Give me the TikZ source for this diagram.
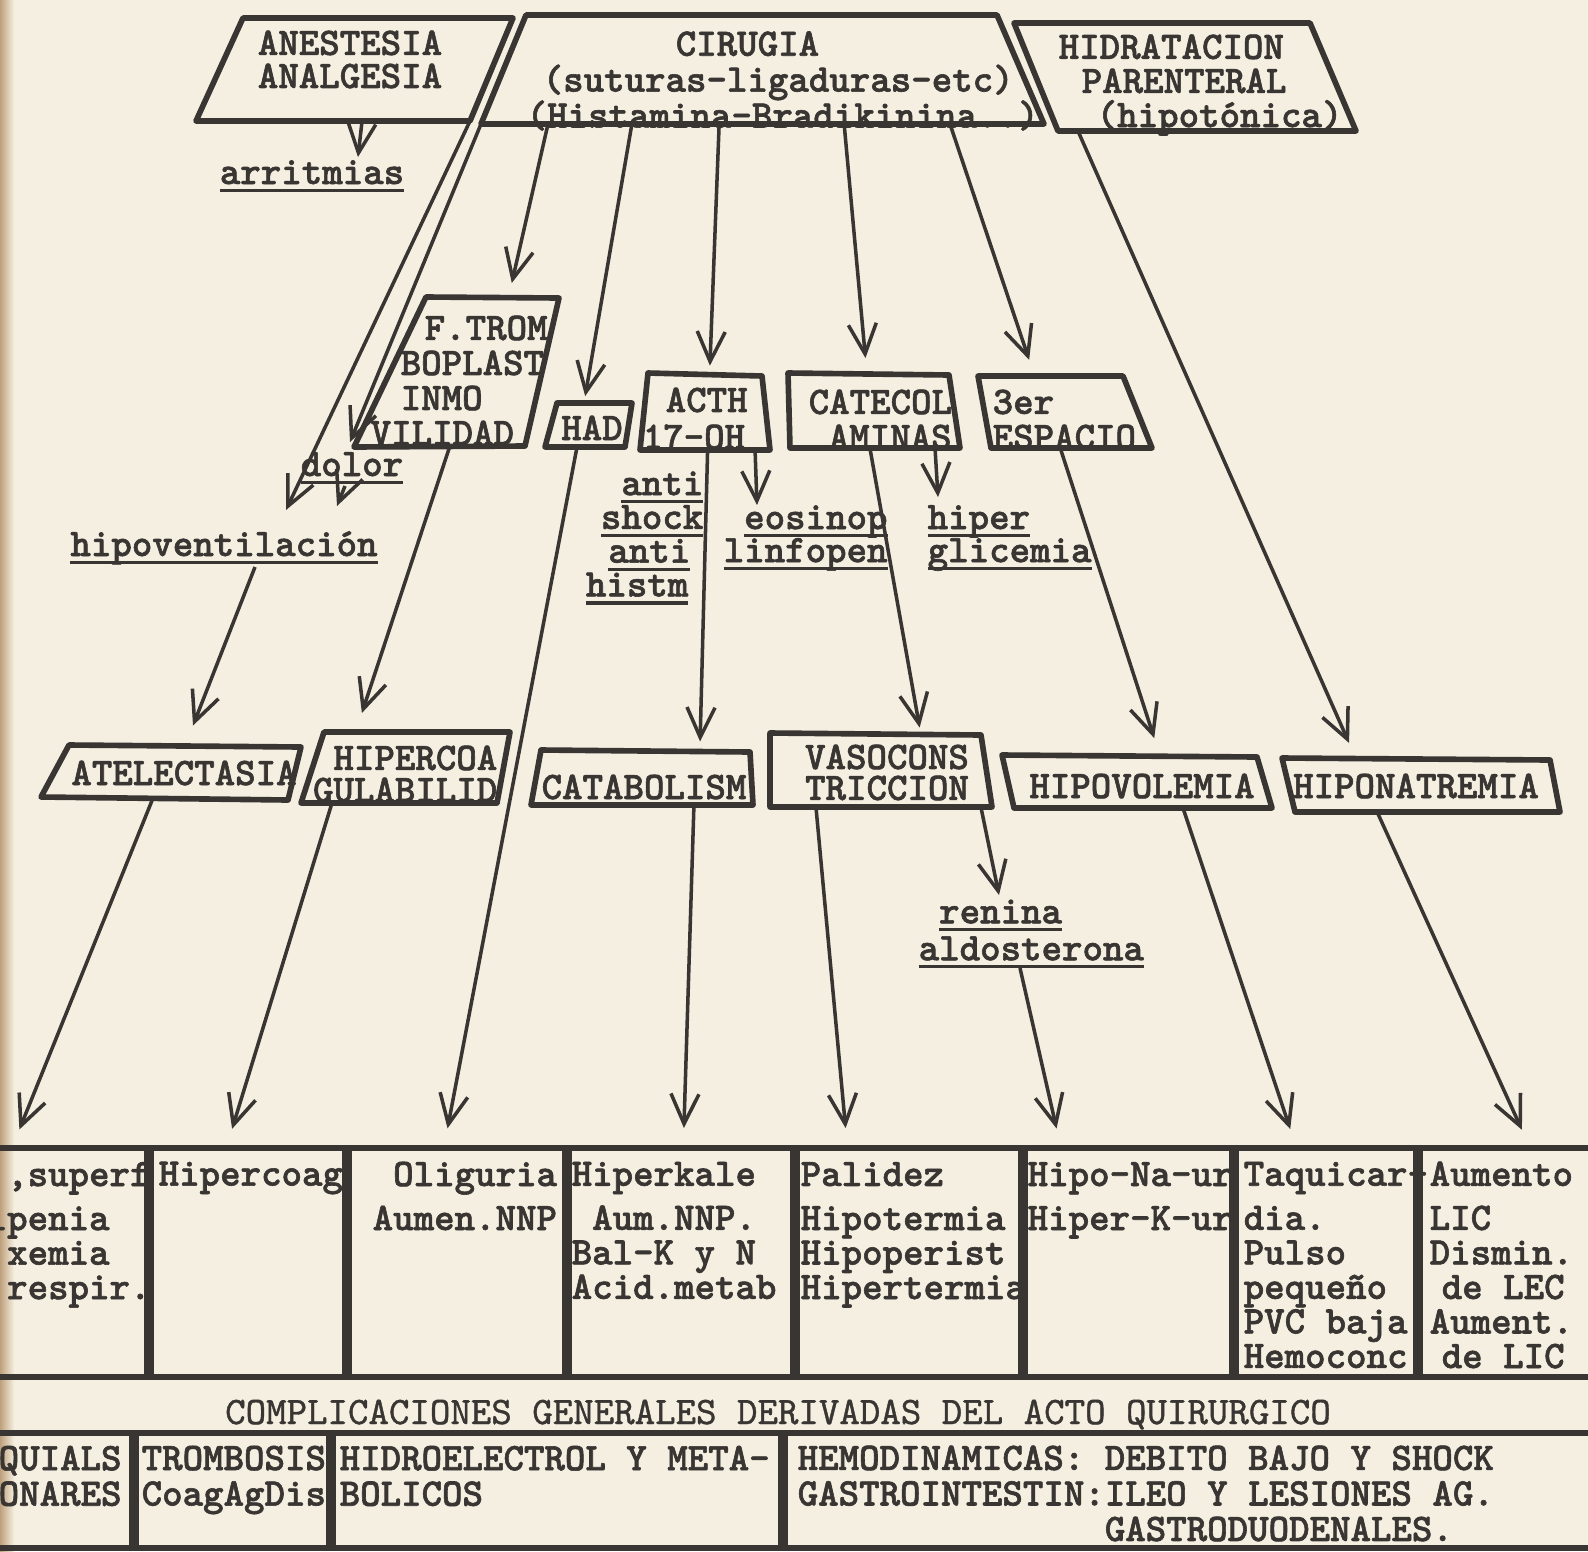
\documentclass[tikz,border=0pt]{standalone}
\usepackage{fontspec}
\newfontfamily\tw{lmmonolt10-bold}[Extension=.otf, FakeBold=1.5]
\newfontfamily\twlight{lmmono10-regular}[Extension=.otf, FakeBold=1]
\usetikzlibrary{arrows.meta}
\usetikzlibrary{calc}
\usetikzlibrary{positioning}
\definecolor{paper}{RGB}{244,239,224}
\definecolor{ink}{RGB}{56,53,50}
\definecolor{scanedge}{RGB}{190,160,124}
\lineskiplimit=-20pt
\tikzset{pbox/.style={draw=ink, line width=1.6pt, line join=round}}
\tikzset{arr/.style={draw=ink, line width=1pt, -{Straight Barb[length=0.3cm,width=0.28cm]}, shorten >=#1}, arr/.default=0pt}
\tikzset{txt/.style={inner sep=0pt, text=ink, font=\tw\frenchspacing\fontsize{11.09}{#1}\selectfont}, txt/.default=9.8pt}
\tikzset{cell/.style={txt=9.82pt, align=left, anchor=west}}
\tikzset{cellb/.style={txt=10.1pt, align=left, anchor=west}}
\tikzset{hline/.style={draw=ink, line width=1.8pt}}
\tikzset{colrule/.style={draw=ink, line width=2.6pt}}
\newcommand{\ulbar}[1]{\setbox0\hbox{#1}\rlap{\rule[-2.3pt]{\wd0}{0.9pt}}\box0}
\newcommand{\typebox}[5]{\draw[pbox] #2 coordinate (#1-tl) -- #3 coordinate (#1-tr) -- #4 coordinate (#1-br) -- #5 coordinate (#1-bl) -- cycle;}

\begin{document}
\begin{tikzpicture}[x=0.01cm, y=-0.01cm]
      \path[use as bounding box] (0,0) rectangle (1588,1551);
      \clip (0,0) rectangle (1588,1551);
      \fill[paper] (0,0) rectangle (1588,1551);
      \shade[left color=scanedge, right color=paper] (0,0) rectangle (14,1551);

      % boxes
      \typebox{anest}{(243,18)}{(513,18)}{(470,121)}{(196,121)}
      \typebox{cir}{(526,15)}{(997,15)}{(1044,124)}{(481,124)}
      \typebox{hidr}{(1014,23)}{(1310,23)}{(1356,131)}{(1058,131)}
      \typebox{ftrom}{(426,297)}{(559,298)}{(525,446)}{(354,447)}
      \typebox{had}{(557,403)}{(632,403)}{(625,447)}{(545,447)}
      \typebox{acth}{(648,373)}{(762,376)}{(770,450)}{(640,450)}
      \typebox{catec}{(788,373)}{(949,375)}{(960,448)}{(790,448)}
      \typebox{esp}{(978,376)}{(1123,376)}{(1152,448)}{(991,448)}
      \typebox{atel}{(69,745)}{(301,747)}{(288,800)}{(41,797)}
      \typebox{hipc}{(324,732)}{(510,732)}{(497,803)}{(301,803)}
      \typebox{catab}{(541,750)}{(750,752)}{(753,805)}{(531,805)}
      \typebox{vaso}{(770,733)}{(981,735)}{(992,807)}{(770,807)}
      \typebox{hipov}{(1002,755)}{(1257,757)}{(1272,808)}{(1014,808)}
      \typebox{hipon}{(1282,758)}{(1550,760)}{(1560,812)}{(1295,812)}

      % box texts
      \node [txt=9.4pt,align=center] (anest) at (350,59.5) {ANESTESIA\\ANALGESIA};
      \node [txt=10.2pt,align=left,anchor=west] (cir) at (526,81)
      {\hspace*{1.49cm}CIRUGIA\\\hspace*{0.16cm}(suturas-ligaduras-etc)\\(Histamina-Bradikinina..)};
      \node [txt=9.7pt,align=left,anchor=west] (hidr) at (1058,85)
      {HIDRATACION\\\hspace*{0.23cm}PARENTERAL\\\hspace*{0.38cm}(hipotónica)};
      \node [txt=9.96pt,align=left,anchor=west] (ftrom) at (370,380.5)
      {\hspace*{0.54cm}F.TROM\\\hspace*{0.3cm}BOPLAST\\\hspace*{0.3cm}INMO\\VILIDAD};
      \node [txt,anchor=base] (had) at (592,440) {HAD};
      \node [txt=10.5pt,align=left,anchor=west] (acth) at (642,418.5) {\hspace*{0.23cm}ACTH\\17-OH};
      \node [txt=9.96pt,align=left,anchor=west] (catec) at (808,419.5) {CATECOL\\\hspace*{0.2cm}AMINAS};
      \node [txt=9.96pt,align=left,anchor=west] (esp) at (992,419.5) {3er\\ESPACIO};
      \node [txt,anchor=base] (atel) at (184,785) {ATELECTASIA};
      \node [txt=9.1pt,align=right,anchor=east] (hipc) at (498,774) {HIPERCOA\\GULABILID};
      \node [txt,anchor=base] (catab) at (644,799) {CATABOLISM};
      \node [txt=8.8pt,align=center] (vaso) at (887,772.5) {VASOCONS\\TRICCION};
      \node [txt,anchor=base] (hipov) at (1142,798) {HIPOVOLEMIA};
      \node [txt,anchor=base] (hipon) at (1416,798) {HIPONATREMIA};

      % labels
      \node [txt,anchor=base] (arrit) at (312,184) {\ulbar{arritmias}};
      \node [txt,anchor=base] (dolor) at (352,476) {\ulbar{dolor}};
      \node [txt,anchor=base] (hipovent) at (224,556) {\ulbar{hipoventilación}};
      \node [txt=9.6pt,align=right,anchor=east] (antis) at (704,538)
      {\ulbar{anti}\\\ulbar{shock}\\\ulbar{anti}\rule{0.13cm}{0pt}\\\ulbar{histm}\rule{0.15cm}{0pt}};
      \node [txt=9.4pt,align=left,anchor=west] (eos) at (723,538) {\phantom{x}\ulbar{eosinop}\\\ulbar{linfopen}};
      \node [txt=9.4pt,align=left,anchor=west] (hiper) at (927,538) {\ulbar{hiper}\\\ulbar{glicemia}};
      \node [txt=10.5pt,align=left,anchor=west] (ren) at (918,934) {\phantom{x}\ulbar{renina}\\\ulbar{aldosterona}};

      % arrows
      \draw [arr] ($(anest-bl)!0.606!(anest-br)$) -- ($(arrit.base)+(46,-27)$);
      \draw [arr] (anest-br) -- ($(hipovent.base)+(62,-46)$);
      \draw [arr] (cir-bl) -- ($(dolor.base)+(-2,-34)$);
      \draw [arr] ($(dolor.base)+(-7,10)$) -- ($(hipovent.base)+(113,-50)$);
      \draw [arr=0.15cm] ($(cir-bl)!0.119!(cir-br)$) -- ($(ftrom-tl)!0.62!(ftrom-tr)$);
      \draw [arr=0.07cm] ($(cir-bl)!0.268!(cir-br)$) -- ($(had-tl)!0.36!(had-tr)$);
      \draw [arr=0.09cm] ($(cir-bl)!0.423!(cir-br)$) -- ($(acth-tl)!0.54!(acth-tr)$);
      \draw [arr=0.16cm] ($(cir-bl)!0.645!(cir-br)$) -- ($(catec-tl)!0.49!(catec-tr)$);
      \draw [arr=0.17cm] ($(cir-bl)!0.833!(cir-br)$) -- ($(esp-tl)!0.39!(esp-tr)$);
      \draw [arr=0.17cm] ($(hidr-bl)!0.067!(hidr-br)$) -- ($(hipon-tl)!0.276!(hipon-tr)$);
      \draw [arr] ($(acth-bl)!0.885!(acth-br)$) -- ($(eos.west)+(34,-33)$);
      \draw [arr] ($(catec-bl)!0.853!(catec-br)$) -- ($(hiper.west)+(11,-41)$);
      \draw [arr=0.22cm] ($(hipovent.base)+(31,11)$) -- ($(atel-tl)!0.5!(atel-tr)$);
      \draw [arr=0.2cm] ($(ftrom-bl)!0.56!(ftrom-br)$) -- ($(hipc-tl)!0.17!(hipc-tr)$);
      \draw [arr=0.1cm] ($(acth-bl)!0.52!(acth-br)$) -- ($(catab-tl)!0.76!(catab-tr)$);
      \draw [arr=0.07cm] ($(catec-bl)!0.47!(catec-br)$) -- ($(vaso-tl)!0.715!(vaso-tr)$);
      \draw [arr=0.19cm] ($(esp-bl)!0.43!(esp-br)$) -- ($(hipov-tl)!0.62!(hipov-tr)$);
      \draw [arr] ($(vaso-bl)!0.95!(vaso-br)$) -- ($(ren.west)+(81,-39)$);

      % table
      \foreach \i/\x in {0/0,1/149,2/347,3/567,4/795,5/1023,6/1234,7/1418,8/1588}
      {
      \coordinate (top\i) at (\x,1148);
      }
      \draw [hline] (top0) -- (top8);
      \draw [hline] (0,1377) -- (1588,1377);
      \foreach \i in {1,...,7}
      {
      \draw [colrule] (top\i) -- ++(0,229);
      }
      \draw [hline] (0,1433) -- (1588,1433);
      \draw [hline] (0,1548) -- (1588,1548);
      \foreach \x in {134,331,783}
      {
      \draw [colrule] (\x,1433) -- (\x,1548);
      }

      % cells
      \node [cell] (c1) at (-14,1234.8) {\phantom{x},superf\\[2.7pt]ipenia\\\phantom{x}xemia\\.respir.};
      \node [cell] (c2) at (158,1178) {Hipercoag};
      \node [cell] (c3) at (372,1196) {\phantom{x}Oliguria\\[2.7pt]Aumen.NNP};
      \node [cell] (c4) at (571,1230.5) {Hiperkale\\[2.7pt]\phantom{x}Aum.NNP.\\Bal-K y N\\Acid.metab};
      \node [cell] (c5) at (800,1234.8) {Palidez\\[2.7pt]Hipotermia\\Hipoperist\\Hipertermia};
      \node [cell] (c6) at (1027,1200.3) {Hipo-Na-ur\\[2.7pt]Hiper-K-ur};
      \node [cell] (c7) at (1243,1265) {Taquicar-\\[2.7pt]dia.\\Pulso\\pequeño\\PVC baja\\Hemoconc};
      \node [cell] (c8) at (1429,1265) {Aumento\\[2.7pt]LIC\\Dismin.\\\hspace*{0.12cm}de LEC\\Aument.\\\hspace*{0.12cm}de LIC};

      \node [txt,anchor=base,font=\twlight\fontsize{11.09}{9.8pt}\selectfont] (compl) at (778,1424)
      {COMPLICACIONES GENERALES DERIVADAS DEL ACTO QUIRURGICO};

      \node [cellb] (d1) at (-2,1476) {QUIALS\\ONARES};
      \node [cellb] (d2) at (141,1480) {TROMBOSIS\\CoagAgDis};
      \node [cellb] (d3) at (339,1476) {HIDROELECTROL Y META-\\BOLICOS};
      \node [cellb] (d4) at (797,1493.5)
      {HEMODINAMICAS: DEBITO BAJO Y SHOCK\\GASTROINTESTIN:ILEO Y LESIONES AG.\\\phantom{GASTROINTESTIN:}GASTRODUODENALES.};

      % arrows into the table
      \draw [arr=0.2cm] ($(atel-bl)!0.453!(atel-br)$) -- ($(top0)!0.08!(top1)$);
      \draw [arr=0.2cm] ($(hipc-bl)!0.158!(hipc-br)$) -- ($(top1)!0.39!(top2)$);
      \draw [arr=0.2cm] ($(had-bl)!0.4!(had-br)$) -- ($(top2)!0.44!(top3)$);
      \draw [arr=0.2cm] ($(catab-bl)!0.734!(catab-br)$) -- ($(top3)!0.51!(top4)$);
      \draw [arr=0.2cm] ($(vaso-bl)!0.207!(vaso-br)$) -- ($(top4)!0.23!(top5)$);
      \draw [arr=0.2cm] ($(ren.west)+(102,34)$) -- ($(top5)!0.18!(top6)$);
      \draw [arr=0.2cm] ($(hipov-bl)!0.655!(hipov-br)$) -- ($(top6)!0.34!(top7)$);
      \draw [arr=0.2cm] ($(hipon-bl)!0.31!(hipon-br)$) -- ($(top7)!0.66!(top8)$);

\end{tikzpicture}
\end{document}
